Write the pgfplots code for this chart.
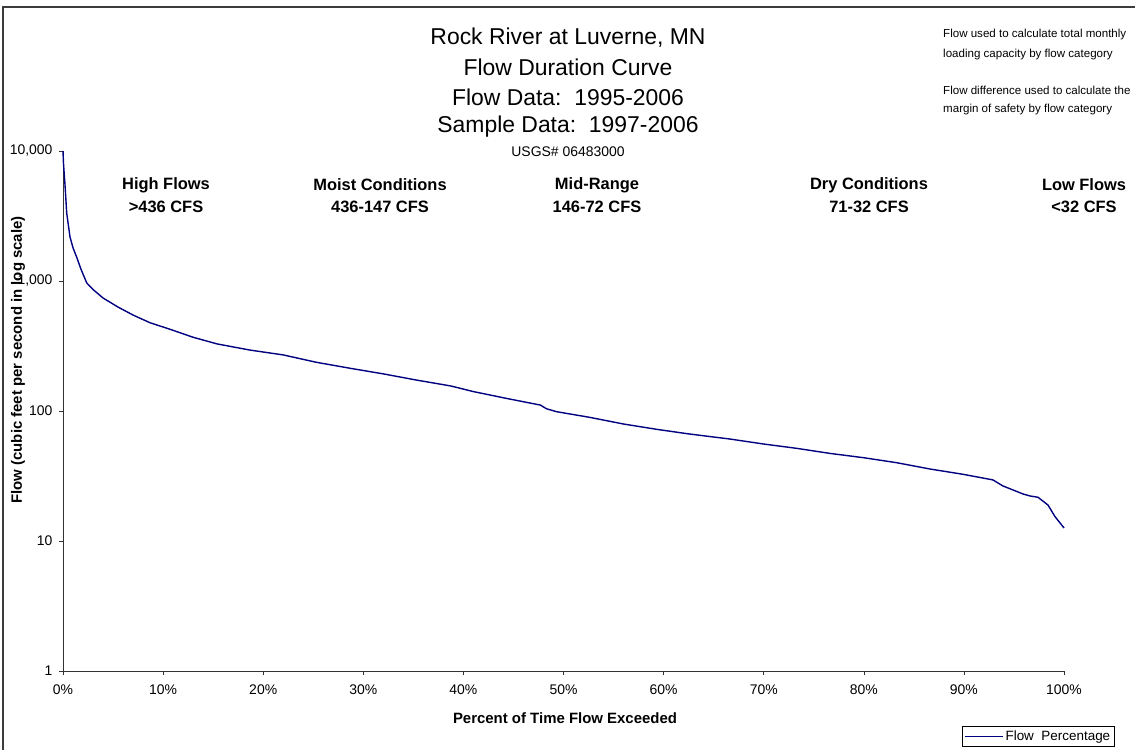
\documentclass[border=0pt]{standalone}
\usepackage{pgfplots}
\pgfplotsset{compat=1.18}
\usepackage{fontspec}
\setmainfont{Liberation Sans}
\definecolor{flowblue}{RGB}{0,0,128}
\definecolor{framegray}{RGB}{60,60,60}

\begin{document}
\begin{tikzpicture}[x=1bp,y=1bp]
% page area
\path[use as bounding box] (0,0) rectangle (1135,750);
% outer chart frame
\draw[framegray,line width=1.5bp] (3,-5) -- (3,743) -- (1140,743);

\begin{axis}[
  at={(63bp,79bp)}, anchor=south west,
  scale only axis, width=1001bp, height=520bp,
  xmin=0, xmax=100, ymin=1, ymax=10000, ymode=log,
  axis lines*=left,
  axis line style={line width=0.8bp, black!80},
  tick align=outside, major tick length=4bp,
  tick style={black!80, line width=0.6bp},
  minor tick num=0, yminorticks=false,
  xtick={0,10,...,100},
  xticklabels={0\%,10\%,20\%,30\%,40\%,50\%,60\%,70\%,80\%,90\%,100\%},
  ytick={1,10,100,1000,10000},
  yticklabels={1,10,100,{1,000},{10,000}},
  ticklabel style={font=\fontsize{14}{16}\selectfont},
  xticklabel style={yshift=-6bp},
  yticklabel style={xshift=-3bp},
  legend style={at={(1115bp-63bp,-55bp)}, anchor=north east,
    legend cell align=left, draw=black, line width=0.6bp,
    font=\fontsize{13.5}{15}\selectfont, inner sep=2.5bp,
    /tikz/every even column/.append style={column sep=2bp}},
  legend image code/.code={\draw[#1, line width=1bp] (0bp,0bp) -- (38bp,0bp);},
  clip=false,
]
\addplot[flowblue, line width=1.4bp] coordinates {
(0,10000) (0.05,8000) (0.2,5500) (0.37,3330) (0.7,2180) (1.0,1800)
(1.36,1530) (1.8,1230) (2.37,966) (3.0,860) (4.0,740) (5.5,630)
(7.0,547) (8.7,477) (10.7,425) (13.0,369) (15.4,328) (18.7,294)
(22.0,270) (25.3,237) (28.7,213) (32.0,193) (35.3,173) (38.7,156)
(41.0,141) (44.3,125) (47.7,111) (48.3,104) (49.3,98.8) (52.6,89.4)
(56.0,79.4) (59.3,72.3) (62.6,66.5) (66.6,60.9) (70.0,55.7) (73.3,51.6)
(76.6,47.2) (80.0,43.7) (83.3,40.0) (86.6,35.8) (89.9,32.6) (92.9,29.5)
(93.9,26.5) (95.9,23.0) (96.6,22.2) (97.4,21.7) (98.4,18.9) (99.1,15.4)
(100,12.6)
};
\addlegendentry{Flow\ \ Percentage}
\end{axis}

% axis titles
\node[font=\bfseries\fontsize{15}{17}\selectfont, rotate=90] at (18,390) {Flow (cubic feet per second in log scale)};
\node[font=\bfseries\fontsize{15}{17}\selectfont] at (565,32) {Percent of Time Flow Exceeded};

% chart title block
\begin{scope}[every node/.style={font=\fontsize{23}{26}\selectfont}]
\node at (568,712) {Rock River at Luverne, MN};
\node at (568,683) {Flow Duration Curve};
\node at (568,653) {Flow Data:\ \ 1995-2006};
\node at (568,623) {Sample Data:\ \ 1997-2006};
\end{scope}
\node[font=\fontsize{14}{16}\selectfont] at (568,598) {USGS\# 06483000};

% notes
\begin{scope}[every node/.style={anchor=west, inner sep=0pt, font=\fontsize{11.6}{13}\selectfont}]
\node at (943,715) {Flow used to calculate total monthly};
\node at (943,695) {loading capacity by flow category};
\node at (943,660) {Flow difference used to calculate the};
\node at (943,640) {margin of safety by flow category};
\end{scope}

% flow zones
\begin{scope}[every node/.style={font=\bfseries\fontsize{16.5}{18}\selectfont}]
\node at (166,565) {High Flows};      \node at (166,543) {>436 CFS};
\node at (380,565) {Moist Conditions}; \node at (380,543) {436-147 CFS};
\node at (597,565) {Mid-Range};       \node at (597,543) {146-72 CFS};
\node at (869,565) {Dry Conditions};  \node at (869,543) {71-32 CFS};
\node at (1084,565) {Low Flows};      \node at (1084,543) {<32 CFS};
\end{scope}
\end{tikzpicture}
\end{document}
